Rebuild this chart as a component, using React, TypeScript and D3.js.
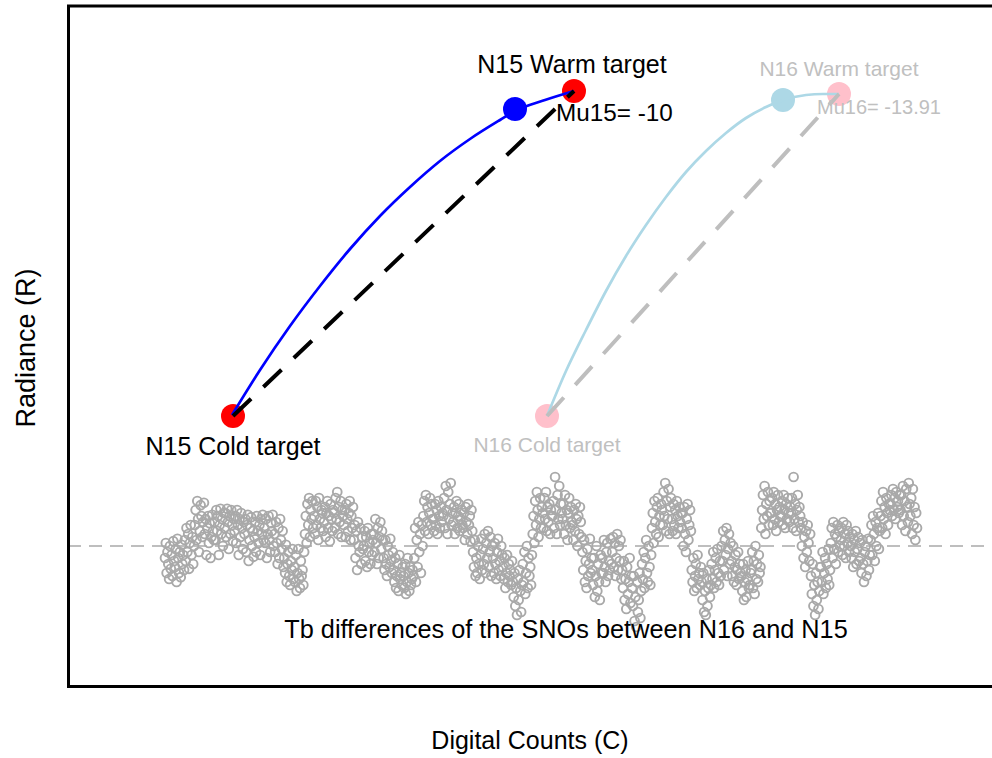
import React from 'react';
import * as d3 from 'd3';

const W = 992;
const H = 758;

// N15 calibration (non-linear) curve: digital counts vs radiance
const n15CurveC = [164, 192, 222, 252, 282, 312, 342, 372, 402, 432, 447, 477, 506];
const n15CurveR = [271, 316, 360, 400, 437, 470, 499, 525, 547, 566, 575, 586, 595];
// N16 calibration curve
const n16CurveC = [479, 498, 518, 538, 558, 578, 598, 618, 638, 658, 678, 698, 715, 738, 755, 771];
const n16CurveR = [270, 315, 356, 395, 430, 461, 489, 514, 535, 553, 568, 579, 586, 591, 592, 592];

// calibration targets
const targetNames = ['N15 Cold target', 'N15 Warm target', 'N16 Cold target', 'N16 Warm target'];
const targetC = [165, 506, 479, 771];
const targetR = [270, 595, 270, 592];
const midC = [447, 715];
const midR = [577, 586];
const muLabels = ['Mu15= -10', 'Mu16= -13.91'];

// Tb differences of the SNOs between N16 and N15 (K), in time order
const tbDiff = [
  -.2,.05,-.45,-.1,-.3,-.55,0,-.38,-.15,-.5,.08,-.25,
  -.35,-.05,-.6,.12,-.2,-.45,-.1,-.52,.02,-.3,-.15,-.4,
  .1,-.25,.3,-.1,.2,-.38,.05,.35,-.15,.15,-.3,0,
  .35,.6,.1,.75,.45,-.1,.25,.68,.5,.15,.4,.72,
  .2,.45,-.15,.3,.5,.05,.38,-.2,.15,.52,.25,.1,
  .4,.1,.6,.25,.5,-.15,.35,.62,.2,.45,0,.55,
  .3,.55,.15,.62,.4,-.05,.5,.2,.6,.35,.08,.45,
  .25,.5,.05,.6,.35,-.15,.45,.15,.55,.3,-.05,.4,
  .2,.45,-.1,.35,.52,-.25,.1,.3,.48,0,.25,-.18,
  .15,.4,-.1,.5,.25,.05,.35,-.15,.45,.2,.52,.1,
  .3,.05,.45,-.2,.2,.5,.1,-.1,.38,.25,.52,0,
  .2,-.1,.4,.05,-.3,.3,-.2,.45,.1,-.05,.25,-.35,
  -.2,-.45,.02,-.6,-.3,-.1,-.5,-.65,-.25,-.4,-.05,-.55,
  -.35,-.6,-.15,-.75,-.45,-.05,-.55,-.7,-.25,-.5,-.4,-.65,
  -.1,.2,.5,.05,.7,.35,.8,.15,.6,.45,.75,.3,
  .5,.2,.75,.35,.65,.1,.8,.45,.3,.6,.55,.25,
  .4,.65,.15,.55,.75,.3,.5,.08,.7,.45,.25,.6,
  .55,.3,.8,.45,.9,.2,.65,.4,.75,.15,.6,.5,
  .35,.6,.15,.7,.45,.25,.55,.75,.1,.5,.3,.65,
  .1,.35,-.2,.25,-.4,.4,0,-.1,.3,-.3,.15,-.05,
  0,.25,-.25,.15,-.35,.3,-.1,.05,-.3,.2,-.15,.1,
  .2,-.1,.45,.05,-.3,.3,-.2,.15,.4,-.05,.25,.1,
  -.2,-.4,.1,-.3,-.5,0,-.15,-.35,.12,-.25,-.45,-.1,
  -.4,-.6,-.2,-.7,-.5,-.3,-.75,-.15,-.55,-.45,-.65,-.35,
  -.5,-.7,-.3,-.8,-.6,-.2,-.45,-.75,-.35,-.65,-.55,-.4,
  -.5,-.2,.3,-.6,.1,-.35,.4,-.1,.2,-.45,.35,0,
  .5,.75,.25,.85,.4,.65,.2,.55,.8,.35,.7,.45,
  .45,.25,.7,.35,.6,.2,.75,.5,.3,.65,.4,.55,
  .5,.8,.3,1.0,.6,.2,.9,.45,.7,1.05,.35,.55,
  .4,.65,.2,.55,.75,.3,.5,.7,.25,.45,.6,.35,
  .3,.55,.1,.65,.4,.2,.7,.35,.5,.08,.6,.25,
  -.1,-.35,.1,-.5,-.2,-.45,0,-.3,-.55,-.15,.12,-.4,
  -.05,-.3,.2,-.45,.05,-.2,.25,-.35,-.1,.15,-.5,0,
  -.2,-.45,.05,-.3,-.55,-.1,.12,-.4,-.25,-.5,0,-.15,
  -.35,-.55,-.2,-.7,-.45,-.15,-.6,-.3,-.5,-.4,-.65,-.25,
  -.6,-.85,-.45,-1.0,-.7,-1.15,-.55,-.9,-.4,-.75,-1.1,-.65,
  -.3,-.6,-.1,-.8,-.45,0,-.7,-.2,-.5,-.35,-.65,-.15,
  .2,.5,.05,.75,.35,.9,.6,.15,.45,.8,.3,.65,
  .55,.3,.8,.45,.9,.25,.65,.4,.7,.2,.6,.5,
  .5,.75,.3,1.15,.6,.2,.85,.45,1.0,.35,.7,.55,
  .45,.7,.2,.85,.35,.6,.1,.55,.8,.3,.65,.4,
  .35,.1,.6,.25,.7,.45,0,.5,.2,.65,.4,.15,
  -.1,-.4,.1,-.6,-.25,-.7,-.05,-.5,-.3,.12,-.45,-.2,
  -.4,-.65,-.2,-.85,-.5,0,-.75,-.3,-.6,-.9,-.15,-.45,
  -.2,-.45,.1,-.35,-.6,-.1,.05,-.5,-.25,-.4,.12,-.3,
  -.1,.15,-.35,.05,-.5,-.2,.2,-.4,0,-.25,.1,-.55,
  -.4,-.7,-.25,-.9,-.55,-1.05,-.35,-.8,-.6,-.2,-.95,-.5,
  -.7,-1.0,-.5,-1.25,-.85,-1.35,-.6,-1.1,-.9,-.45,-1.2,-.75,
  -.3,-.55,-.1,-.7,-.2,.1,-.45,-.6,0,-.35,-.65,-.15,
  .3,.55,.05,.75,.4,.2,.65,.8,.15,.5,.35,.7,
  .6,.35,.9,.5,1.05,.25,.75,.45,.95,.2,.65,.8,
  .45,.25,.7,.35,.6,.2,.75,.5,.3,.65,.4,.55,
  .3,.55,0,.65,.2,-.1,.45,.7,.1,.35,.6,.25,
  -.4,-.6,-.2,-.75,-.5,-.3,-.7,-.15,-.55,-.45,-.65,-.35,
  -.6,-.9,-.45,-1.1,-.75,-1.15,-.55,-1.0,-.7,-.4,-.85,-.65,
  -.3,-.55,-.1,-.7,-.4,-.2,-.6,-.05,-.45,-.65,-.25,-.5,
  0,-.25,.25,-.4,.1,-.15,.3,-.5,-.05,.2,-.3,.05,
  -.25,-.5,0,-.6,-.35,-.15,-.65,-.4,-.1,-.55,-.3,-.45,
  -.5,-.75,-.3,-.9,-.6,-.4,-.85,-.55,-.25,-.7,-.65,-.45,
  -.4,-.1,-.7,-.25,-.8,0,-.55,-.3,-.6,-.15,-.45,-.35,
  .3,.6,.85,.45,1.0,.2,.7,.5,.9,.35,.75,.55,
  .55,.8,.35,.9,.45,.7,.25,.6,.85,.4,.65,.5,
  .5,.75,.35,.85,.6,.3,.7,.45,.8,.55,.4,.65,
  .55,.8,.3,1.15,.45,.7,.25,.6,.85,.4,.65,.5,
  .3,0,.4,-.2,.15,-.35,.25,-.1,.35,.05,-.25,.2,
  -.5,-.8,-.3,-1.0,-.65,-1.15,-.45,-.9,-.6,-1.05,-.75,-.35,
  -.35,-.6,-.1,-.8,-.45,-.2,-.7,-.3,-.55,-.05,-.65,-.4,
  .05,.3,-.2,.4,-.05,.2,-.3,.15,.35,-.1,.25,0,
  .1,.3,-.15,.4,0,.2,-.2,.35,.05,.25,-.1,.15,
  0,-.2,.2,-.35,.1,-.1,.25,-.3,-.05,.15,-.25,.05,
  -.2,-.45,.1,-.3,-.6,-.1,0,-.5,-.25,.12,-.4,-.15,
  .1,.35,-.15,.5,.2,-.25,.4,0,.3,.55,-.05,.25,
  .5,.75,.3,.9,.45,.65,.2,.8,.55,.35,.7,.6,
  .7,.85,.5,.95,.6,.8,.45,.9,.65,.75,.55,.85,
  .6,.85,.35,1.0,.5,.75,.25,.95,.65,.4,1.05,.7,
  .5,.8,.2,.95,.35,.65,.1,.55,.3,
];
const tbStartC = 97;
const tbEndC = 849;

const FONT = '"Liberation Sans", Arial, Helvetica, sans-serif';
const LIGHT = '#c0c0c0';

export default function App() {
  const x = d3.scaleLinear().domain([0, 924]).range([68, 992]);
  const y = d3.scaleLinear().domain([0, 680]).range([686, 6]);
  const tbX = d3.scaleLinear().domain([0, tbDiff.length - 1]).range([x(tbStartC), x(tbEndC)]);
  const tbY = d3.scaleLinear().domain([-1.5, 1.5]).range([636, 456]);

  const n15Path = d3
    .line<number>()
    .x((_, i) => x(n15CurveC[i]))
    .y((_, i) => y(n15CurveR[i]))
    .curve(d3.curveMonotoneX)(n15CurveC);
  const n16Path = d3
    .line<number>()
    .x((_, i) => x(n16CurveC[i]))
    .y((_, i) => y(n16CurveR[i]))
    .curve(d3.curveMonotoneX)(n16CurveC);

  const tx = targetC.map((c) => x(c));
  const ty = targetR.map((r) => y(r));

  return (
    <svg
      width={W}
      height={H}
      style={{ position: 'absolute', left: 0, top: 0, background: '#fff' }}
      fontFamily={FONT}
    >
      <rect x={0} y={0} width={W} height={H} fill="#fff" />
      {/* zero line for Tb differences */}
      <line
        x1={x(0)}
        x2={W}
        y1={tbY(0)}
        y2={tbY(0)}
        stroke="#a9a9a9"
        strokeWidth={1.5}
        strokeDasharray="13,8"
      />
      {/* SNO Tb differences */}
      <g fill="none" stroke="#a9a9a9" strokeWidth={1.9}>
        {tbDiff.map((v, i) => (
          <circle key={i} cx={tbX(i)} cy={tbY(v)} r={4.4} />
        ))}
      </g>

      {/* target markers */}
      <circle cx={tx[0]} cy={ty[0]} r={12} fill="#ff0000" />
      <circle cx={tx[1]} cy={ty[1]} r={12} fill="#ff0000" />
      <circle cx={tx[2]} cy={ty[2]} r={12} fill="#ffc0cb" />
      <circle cx={tx[3]} cy={ty[3]} r={12} fill="#ffc0cb" />
      <circle cx={x(midC[0])} cy={y(midR[0])} r={12} fill="#0000ff" />
      <circle cx={x(midC[1])} cy={y(midR[1])} r={12} fill="#add8e6" />

      {/* calibration curves */}
      <path d={n15Path || ''} fill="none" stroke="#0000ff" strokeWidth={2.7} />
      <path d={n16Path || ''} fill="none" stroke="#add8e6" strokeWidth={2.7} />
      {/* linear calibration */}
      <line x1={tx[0]} y1={ty[0]} x2={tx[1]} y2={ty[1]} stroke="#000" strokeWidth={4} strokeDasharray="25,17" />
      <line x1={tx[2]} y1={ty[2]} x2={tx[3]} y2={ty[3]} stroke="#bebebe" strokeWidth={4} strokeDasharray="25,17" />

      {/* labels */}
      <g fontSize={25} fill="#000">
        <text x={tx[0]} y={ty[0] + 39} textAnchor="middle">{targetNames[0]}</text>
        <text x={tx[1] - 2} y={ty[1] - 18} textAnchor="middle">{targetNames[1]}</text>
        <text x={tx[1] - 18} y={ty[1] + 30} fontSize={24.3}>{muLabels[0]}</text>
      </g>
      <g fontSize={21} fill={LIGHT}>
        <text x={tx[2]} y={ty[2] + 36} textAnchor="middle">{targetNames[2]}</text>
        <text x={tx[3]} y={ty[3] - 18} textAnchor="middle">{targetNames[3]}</text>
        <text x={tx[3] - 22} y={ty[3] + 20} fontSize={20}>{muLabels[1]}</text>
      </g>
      <text x={x(498)} y={tbY(-1.53)} fontSize={25.3} textAnchor="middle" fill="#000">
        Tb differences of the SNOs between N16 and N15
      </text>

      {/* plot frame */}
      <rect x={68.5} y={6} width={940} height={680.5} fill="none" stroke="#000" strokeWidth={3} />

      {/* axis titles */}
      <text x={530} y={749} fontSize={25} textAnchor="middle" fill="#000">
        Digital Counts (C)
      </text>
      <text
        transform={`translate(35,${(6 + 686) / 2 + 2}) rotate(-90)`}
        fontSize={27}
        textAnchor="middle"
        fill="#000"
      >
        Radiance (R)
      </text>
    </svg>
  );
}
